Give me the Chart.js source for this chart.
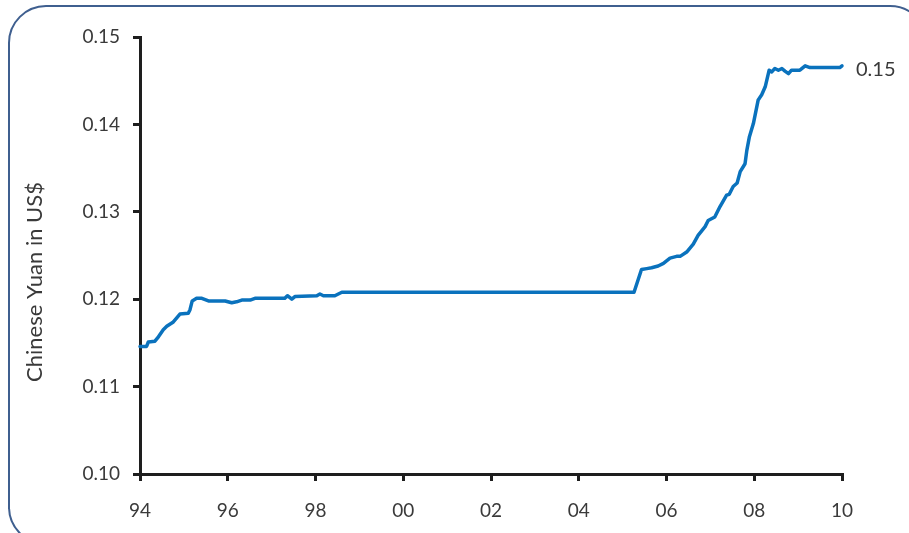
<!DOCTYPE html>
<html>
<head>
<meta charset="utf-8">
<script src="https://cdn.jsdelivr.net/npm/chart.js@4/dist/chart.umd.min.js"></script>
<style>
  html, body { margin: 0; padding: 0; background: #fff; overflow: hidden; }
  #wrap { position: relative; width: 909px; height: 533px; overflow: hidden; }
  #frame {
    position: absolute; left: 8px; top: 5px; width: 920px; height: 540px;
    border: 2px solid #3f5f8f; border-radius: 38px; box-sizing: border-box;
  }
  #c { position: absolute; left: 0; top: 0; }
</style>
</head>
<body>
<div id="wrap">
  <div id="frame"></div>
  <canvas id="c" width="909" height="533"></canvas>
</div>
<script>
// Chinese yuan expressed in US dollars, 1994-2010 (year fraction, rate)
const years = [
  1994.00, 1994.15, 1994.19, 1994.34, 1994.42, 1994.53, 1994.61, 1994.76, 1994.91,
  1995.10, 1995.14, 1995.19, 1995.29, 1995.41, 1995.56, 1995.94, 1996.09, 1996.20,
  1996.32, 1996.51, 1996.62, 1997.30, 1997.36, 1997.46, 1997.53, 1998.03, 1998.10,
  1998.18, 1998.44, 1998.60, 2005.26, 2005.43, 2005.55, 2005.66, 2005.81, 2005.93,
  2006.08, 2006.23, 2006.31, 2006.46, 2006.61, 2006.72, 2006.88, 2006.95, 2007.10,
  2007.22, 2007.37, 2007.43, 2007.52, 2007.61, 2007.68, 2007.79, 2007.83, 2007.89,
  2007.98, 2008.09, 2008.17, 2008.25, 2008.34, 2008.40, 2008.47, 2008.55, 2008.63,
  2008.70, 2008.78, 2008.85, 2009.04, 2009.16, 2009.27, 2009.95, 2010.00
];
const yuanUsd = [
  0.1146, 0.1146, 0.1151, 0.1152, 0.1157, 0.1165, 0.1169, 0.1174, 0.1183,
  0.1184, 0.1188, 0.1198, 0.1201, 0.1201, 0.1198, 0.1198, 0.1196, 0.1197,
  0.1199, 0.1199, 0.1201, 0.1201, 0.1204, 0.1200, 0.1203, 0.1204, 0.1206,
  0.1204, 0.1204, 0.1208, 0.1208, 0.1234, 0.1235, 0.1236, 0.1238, 0.1241,
  0.1247, 0.1249, 0.1249, 0.1254, 0.1263, 0.1273, 0.1283, 0.1290, 0.1294,
  0.1306, 0.1319, 0.1320, 0.1329, 0.1333, 0.1346, 0.1355, 0.1370, 0.1386,
  0.1401, 0.1428, 0.1434, 0.1443, 0.1462, 0.1460, 0.1464, 0.1462, 0.1464,
  0.1461, 0.1458, 0.1462, 0.1462, 0.1467, 0.1465, 0.1465, 0.1467
];
const xTickYears = [1994, 1996, 1998, 2000, 2002, 2004, 2006, 2008, 2010];
const yTickValues = [0.10, 0.11, 0.12, 0.13, 0.14, 0.15];
const axisTitle = 'Chinese Yuan in US$';

const TEXT = '#3a3a3a';
const AXIS = '#1e1e1e';
const LINE = '#0a72bd';

const points = years.map((x, i) => ({ x, y: yuanUsd[i] }));

// value label at the end of the line
const endLabel = {
  id: 'endLabel',
  afterDatasetsDraw(chart) {
    const meta = chart.getDatasetMeta(0);
    const last = meta.data[meta.data.length - 1];
    const v = yuanUsd[yuanUsd.length - 1];
    const ctx = chart.ctx;
    ctx.save();
    ctx.font = '20px Lato';
    ctx.fillStyle = TEXT;
    ctx.textAlign = 'left';
    ctx.textBaseline = 'middle';
    ctx.fillText(v.toFixed(2), last.x + 14, last.y + 4);
    ctx.restore();
  }
};

// rotated y-axis caption
const yCaption = {
  id: 'yCaption',
  afterDraw(chart) {
    const ctx = chart.ctx;
    ctx.save();
    ctx.translate(35, 282);
    ctx.rotate(-Math.PI / 2);
    ctx.font = '22px Lato';
    ctx.fillStyle = TEXT;
    ctx.textAlign = 'center';
    ctx.textBaseline = 'middle';
    ctx.fillText(axisTitle, 0, 0);
    ctx.restore();
  }
};

new Chart(document.getElementById('c'), {
  type: 'line',
  data: {
    datasets: [{
      data: points,
      borderColor: LINE,
      borderWidth: 3.5,
      pointRadius: 0,
      tension: 0,
      borderJoinStyle: 'round',
      borderCapStyle: 'round',
      clip: false
    }]
  },
  options: {
    responsive: false,
    animation: false,
    events: [],
    layout: { padding: { left: 0, right: 67, top: 37, bottom: 0 } },
    plugins: { legend: { display: false }, tooltip: { enabled: false } },
    scales: {
      x: {
        type: 'linear',
        min: xTickYears[0],
        max: xTickYears[xTickYears.length - 1],
        afterBuildTicks(s) { s.ticks = xTickYears.map(v => ({ value: v })); },
        afterFit(s) { s.height = 59; },
        ticks: {
          color: TEXT,
          font: { family: 'Lato', size: 19 },
          padding: 18,
          maxRotation: 0,
          callback: v => String(v % 100).padStart(2, '0')
        },
        grid: { drawOnChartArea: false, drawTicks: true, tickLength: 7, lineWidth: 3, color: AXIS },
        border: { display: true, width: 3, color: AXIS }
      },
      y: {
        min: yTickValues[0],
        max: yTickValues[yTickValues.length - 1],
        afterBuildTicks(s) { s.ticks = yTickValues.map(v => ({ value: v })); },
        afterFit(s) { s.width = 140; },
        ticks: {
          color: TEXT,
          font: { family: 'Lato', size: 19 },
          padding: 13,
          callback: v => Number(v).toFixed(2)
        },
        grid: { drawOnChartArea: false, drawTicks: true, tickLength: 7, lineWidth: 3, color: AXIS },
        border: { display: true, width: 3, color: AXIS }
      }
    }
  },
  plugins: [endLabel, yCaption]
});
</script>
</body>
</html>
